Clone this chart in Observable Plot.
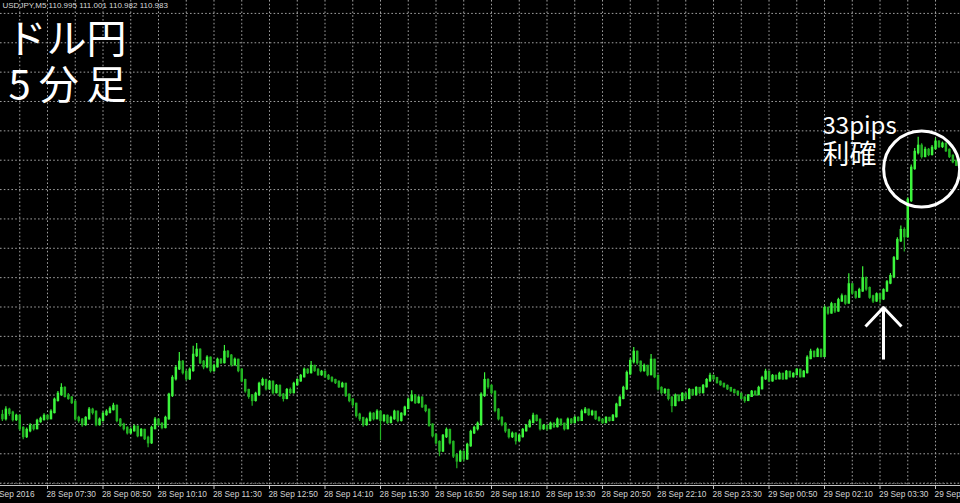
<!DOCTYPE html>
<html>
<head>
<meta charset="utf-8">
<script src="https://cdn.jsdelivr.net/npm/d3@7"></script>
<script src="https://cdn.jsdelivr.net/npm/@observablehq/plot@0.6"></script>
<style>
  html, body { margin: 0; padding: 0; background: #000; }
  #chart { width: 960px; height: 503px; overflow: hidden; }
</style>
</head>
<body>
<div id="chart"></div>
<script>
// ---- DATA (USDJPY M5, 5-minute bars starting 28 Sep 06:25) ----
const symbol = "USDJPY,M5";
const firstBar = "2016-09-28T06:25:00Z";
const barMinutes = 5;
const firstOpen = 110.130;

const closes = [
  110.120,110.148,110.138,110.117,110.127,110.086,110.059,110.079,110.093,110.086,
  110.110,110.117,110.127,110.120,110.141,110.182,110.202,110.222,110.196,110.189,
  110.175,110.120,110.114,110.100,110.120,110.148,110.141,110.100,110.114,110.134,
  110.141,110.151,110.161,110.114,110.097,110.086,110.072,110.079,110.090,110.062,
  110.079,110.052,110.038,110.086,110.114,110.100,110.090,110.120,110.199,110.256,
  110.290,110.311,110.277,110.256,110.284,110.335,110.352,110.311,110.297,110.325,
  110.284,110.297,110.318,110.311,110.345,110.332,110.304,110.318,110.284,110.249,
  110.215,110.196,110.182,110.202,110.236,110.249,110.222,110.243,110.209,110.229,
  110.199,110.189,110.215,110.209,110.236,110.249,110.263,110.284,110.277,110.297,
  110.284,110.270,110.277,110.263,110.256,110.249,110.243,110.229,110.236,110.199,
  110.182,110.168,110.131,110.120,110.100,110.114,110.134,110.120,110.141,110.114,
  110.127,110.107,110.120,110.141,110.114,110.134,110.155,110.182,110.196,110.175,
  110.189,110.161,110.148,110.097,110.062,110.038,110.010,110.059,110.079,110.038,
  109.993,109.976,110.004,109.983,110.028,110.072,110.086,110.100,110.199,110.249,
  110.229,110.209,110.148,110.120,110.100,110.079,110.059,110.066,110.045,110.059,
  110.079,110.093,110.107,110.127,110.114,110.086,110.093,110.086,110.100,110.093,
  110.114,110.100,110.086,110.114,110.107,110.120,110.114,110.141,110.148,110.134,
  110.141,110.120,110.114,110.107,110.120,110.114,110.127,110.165,110.189,110.222,
  110.273,110.314,110.345,110.311,110.284,110.297,110.270,110.318,110.263,110.222,
  110.209,110.215,110.189,110.165,110.196,110.182,110.202,110.189,110.215,110.202,
  110.222,110.209,110.229,110.249,110.263,110.256,110.243,110.236,110.229,110.222,
  110.215,110.209,110.202,110.189,110.182,110.196,110.209,110.202,110.222,110.256,
  110.277,110.249,110.263,110.256,110.270,110.256,110.277,110.263,110.270,110.284,
  110.263,110.277,110.325,110.345,110.332,110.352,110.332,110.494,110.480,110.507,
  110.487,110.521,110.534,110.514,110.575,110.548,110.534,110.555,110.596,110.562,
  110.534,110.521,110.541,110.528,110.555,110.582,110.603,110.664,110.726,110.760,
  110.740,110.863,110.972,111.026,111.047,111.013,111.033,111.020,111.040,111.061,
  111.047,111.054,111.033,111.013,110.995,110.983
];

const highs = [
  110.148,110.160,110.155,110.145,110.135,110.132,110.092,110.088,110.102,110.100,
  110.118,110.125,110.136,110.133,110.150,110.190,110.212,110.239,110.228,110.205,
  110.195,110.180,110.128,110.120,110.126,110.158,110.155,110.146,110.122,110.142,
  110.150,110.160,110.172,110.166,110.120,110.104,110.092,110.088,110.098,110.095,
  110.086,110.084,110.060,110.094,110.124,110.120,110.106,110.128,110.206,110.266,
  110.300,110.345,110.318,110.284,110.292,110.366,110.376,110.358,110.318,110.334,
  110.330,110.305,110.326,110.325,110.369,110.352,110.338,110.326,110.322,110.290,
  110.254,110.220,110.202,110.210,110.244,110.258,110.254,110.250,110.248,110.236,
  110.234,110.205,110.222,110.224,110.244,110.256,110.270,110.292,110.290,110.314,
  110.302,110.290,110.284,110.282,110.270,110.262,110.254,110.248,110.244,110.240,
  110.204,110.188,110.172,110.138,110.124,110.122,110.142,110.140,110.150,110.146,
  110.134,110.132,110.128,110.148,110.146,110.140,110.162,110.190,110.215,110.202,
  110.196,110.194,110.166,110.152,110.102,110.068,110.044,110.066,110.088,110.084,
  110.044,110.000,110.012,110.010,110.036,110.080,110.094,110.108,110.208,110.276,
  110.256,110.236,110.214,110.154,110.126,110.106,110.084,110.074,110.072,110.066,
  110.086,110.100,110.116,110.138,110.132,110.118,110.100,110.098,110.108,110.106,
  110.122,110.118,110.104,110.122,110.120,110.128,110.126,110.150,110.158,110.152,
  110.148,110.144,110.126,110.118,110.126,110.124,110.134,110.172,110.196,110.230,
  110.282,110.324,110.362,110.350,110.316,110.306,110.302,110.338,110.322,110.268,
  110.228,110.222,110.220,110.194,110.204,110.200,110.208,110.206,110.222,110.220,
  110.228,110.226,110.236,110.256,110.274,110.268,110.260,110.248,110.240,110.234,
  110.226,110.220,110.214,110.206,110.194,110.202,110.216,110.214,110.230,110.264,
  110.288,110.282,110.270,110.268,110.278,110.274,110.284,110.280,110.276,110.290,
  110.288,110.284,110.334,110.356,110.350,110.360,110.356,110.504,110.500,110.516,
  110.512,110.530,110.544,110.540,110.613,110.580,110.554,110.564,110.637,110.602,
  110.568,110.540,110.548,110.546,110.562,110.590,110.614,110.672,110.736,110.776,
  110.770,110.872,110.984,111.040,111.078,111.056,111.044,111.040,111.050,111.075,
  111.066,111.062,111.058,111.038,111.018,111.001
];

const lows = [
  110.110,110.112,110.128,110.108,110.110,110.078,110.048,110.052,110.072,110.078,
  110.082,110.104,110.112,110.112,110.116,110.136,110.176,110.196,110.190,110.182,
  110.168,110.112,110.104,110.090,110.094,110.114,110.132,110.092,110.094,110.108,
  110.128,110.136,110.146,110.106,110.090,110.078,110.064,110.066,110.074,110.055,
  110.058,110.045,110.021,110.032,110.082,110.093,110.082,110.085,110.114,110.192,
  110.248,110.284,110.268,110.248,110.250,110.278,110.328,110.304,110.286,110.290,
  110.275,110.278,110.292,110.304,110.306,110.325,110.296,110.298,110.276,110.242,
  110.206,110.186,110.162,110.176,110.196,110.230,110.214,110.216,110.200,110.204,
  110.192,110.176,110.184,110.202,110.204,110.230,110.244,110.258,110.270,110.272,
  110.278,110.264,110.264,110.258,110.250,110.242,110.236,110.222,110.224,110.192,
  110.174,110.158,110.122,110.110,110.090,110.094,110.108,110.112,110.116,110.045,
  110.106,110.100,110.102,110.114,110.106,110.108,110.128,110.150,110.176,110.168,
  110.170,110.154,110.140,110.090,110.054,110.030,109.990,110.004,110.052,110.030,
  109.984,109.949,109.970,109.972,109.978,110.022,110.066,110.078,110.094,110.192,
  110.220,110.200,110.140,110.112,110.092,110.070,110.050,110.052,110.030,110.040,
  110.054,110.074,110.088,110.102,110.108,110.078,110.080,110.078,110.082,110.086,
  110.088,110.094,110.078,110.082,110.100,110.102,110.108,110.110,110.136,110.128,
  110.128,110.114,110.108,110.100,110.102,110.108,110.110,110.122,110.160,110.184,
  110.216,110.266,110.306,110.302,110.276,110.278,110.262,110.266,110.256,110.214,
  110.200,110.202,110.180,110.140,110.160,110.176,110.178,110.182,110.184,110.196,
  110.198,110.202,110.204,110.224,110.244,110.250,110.238,110.230,110.224,110.216,
  110.210,110.204,110.196,110.184,110.172,110.178,110.192,110.196,110.198,110.218,
  110.250,110.242,110.244,110.250,110.252,110.250,110.252,110.258,110.258,110.266,
  110.258,110.260,110.272,110.320,110.326,110.328,110.326,110.328,110.472,110.476,
  110.478,110.482,110.516,110.506,110.510,110.540,110.526,110.530,110.550,110.554,
  110.526,110.512,110.516,110.510,110.522,110.550,110.576,110.598,110.658,110.720,
  110.687,110.734,110.856,110.966,111.018,111.004,111.008,111.012,111.014,111.034,
  111.040,111.040,111.026,111.006,110.988,110.982
];

// time-axis labels (MT4 style, left-aligned at their bar)
const tickTimes = [
  "2016-09-28T06:05:00Z","2016-09-28T07:30:00Z","2016-09-28T08:50:00Z","2016-09-28T10:10:00Z",
  "2016-09-28T11:30:00Z","2016-09-28T12:50:00Z","2016-09-28T14:10:00Z","2016-09-28T15:30:00Z",
  "2016-09-28T16:50:00Z","2016-09-28T18:10:00Z","2016-09-28T19:30:00Z","2016-09-28T20:50:00Z",
  "2016-09-28T22:10:00Z","2016-09-28T23:30:00Z","2016-09-29T00:50:00Z","2016-09-29T02:10:00Z",
  "2016-09-29T03:30:00Z","2016-09-29T04:50:00Z"
];
const tickLabels = [
  "28 Sep 2016","28 Sep 07:30","28 Sep 08:50","28 Sep 10:10","28 Sep 11:30","28 Sep 12:50",
  "28 Sep 14:10","28 Sep 15:30","28 Sep 16:50","28 Sep 18:10","28 Sep 19:30","28 Sep 20:50",
  "28 Sep 22:10","28 Sep 23:30","29 Sep 00:50","29 Sep 02:10","29 Sep 03:30","29 Sep 04:50"
];

const titleLines = ["ドル円", "5分足"];
const noteLines = ["33pips", "利確"];
const entryBar = 254;                 // bar the arrow points at (entry)
const exitZone = {bar: 265, price: 110.97};  // centre of the circled take-profit zone

// ---- BUILD ----
const t0 = new Date(firstBar).getTime();
const candles = closes.map((c, i) => ({
  time: new Date(t0 + i * barMinutes * 60000),
  open: i === 0 ? firstOpen : closes[i - 1],
  high: highs[i],
  low: lows[i],
  close: c
}));
const upBars = candles.filter(d => d.close >= d.open);
const downBars = candles.filter(d => d.close < d.open);
const last = candles[candles.length - 1];
const header = `${symbol} ${last.open.toFixed(3)} ${last.high.toFixed(3)} ${last.low.toFixed(3)} ${last.close.toFixed(3)}`;

const ticks = tickTimes.map((t, i) => ({time: new Date(t), label: tickLabels[i]}));

const xDomain = [new Date("2016-09-28T06:22:15Z"), new Date("2016-09-29T05:26:00Z")];
const yDomain = [109.892, 111.544];
const gridPrices = d3.range(109.9, 111.55, 0.1);
const gridTimes = [];
for (let t = new Date("2016-09-28T06:50:00Z").getTime(); t <= xDomain[1].getTime(); t += 40 * 60000) gridTimes.push(new Date(t));

const upColor = "#3cf53c";
const downColor = "#22b322";
const gridColor = "#a0a0a0";

const arrowShape = {
  draw(context, l) {
    context.moveTo(0, 0);
    context.lineTo(0, -l);
    context.moveTo(-18, -l + 19);
    context.lineTo(0, -l);
    context.lineTo(18, -l + 19);
  }
};

const chart = Plot.plot({
  width: 960,
  height: 503,
  marginTop: 0,
  marginLeft: 0,
  marginRight: 0,
  marginBottom: 18,
  style: {background: "#000", color: "#ddd", overflow: "visible"},
  x: {type: "utc", domain: xDomain, axis: null},
  y: {domain: yDomain, axis: null},
  marks: [
    // dotted grid
    Plot.ruleY(gridPrices, {stroke: gridColor, strokeDasharray: "1.6,2.2", strokeWidth: 1}),
    Plot.ruleX(gridTimes, {stroke: gridColor, strokeDasharray: "1.6,2.2", strokeWidth: 1}),
    // bottom time scale
    Plot.ruleY([yDomain[0]], {stroke: "#c4c4c4", strokeWidth: 1}),
    Plot.ruleY([yDomain[0]], {stroke: "#8a8a8a", strokeDasharray: "1,2.47", dy: -2, strokeWidth: 1}),
    Plot.ruleX(ticks, {x: "time", y1: yDomain[0], y2: yDomain[0], insetBottom: -4, stroke: "#c4c4c4"}),
    Plot.text(ticks, {x: "time", y: yDomain[0], text: "label", textAnchor: "start", dy: 9, dx: -1,
      fill: "#d4d4d4", fontSize: 8.3, fontFamily: "Liberation Sans, Arial, sans-serif"}),
    // candles: wicks
    Plot.ruleX(upBars, {x: "time", y1: "low", y2: "high", stroke: upColor, strokeWidth: 1.2}),
    Plot.ruleX(downBars, {x: "time", y1: "low", y2: "high", stroke: downColor, strokeWidth: 1.2}),
    // candles: bodies
    Plot.ruleX(upBars, {x: "time", y1: "open", y2: "close", stroke: upColor, strokeWidth: 2.5, strokeLinecap: "square"}),
    Plot.ruleX(downBars, {x: "time", y1: "open", y2: "close", stroke: downColor, strokeWidth: 2.5, strokeLinecap: "square"}),
    // header
    Plot.text([header], {frameAnchor: "top-left", text: d => d, dx: 2, dy: 5, lineAnchor: "middle",
      fill: "#d8d8d8", fontSize: 8, fontFamily: "Liberation Sans, Arial, sans-serif"}),
    // title
    Plot.text([titleLines[0]], {frameAnchor: "top-left", text: d => d, dx: 6, dy: 40, lineAnchor: "middle",
      textAnchor: "start", fill: "#fff", fontSize: 40, fontFamily: "Noto Sans CJK JP"}),
    Plot.text([titleLines[1]], {frameAnchor: "top-left", text: d => d, dx: 8, dy: 86, lineAnchor: "middle",
      textAnchor: "start", fill: "#fff", fontSize: 40, fontFamily: "Noto Sans CJK JP"}),
    // note
    Plot.text([noteLines[0]], {frameAnchor: "top-left", text: d => d, dx: 822, dy: 126, lineAnchor: "middle",
      textAnchor: "start", fill: "#fff", fontSize: 24, fontFamily: "Noto Sans CJK JP"}),
    Plot.text([noteLines[1]], {frameAnchor: "top-left", text: d => d, dx: 822, dy: 155, lineAnchor: "middle",
      textAnchor: "start", fill: "#fff", fontSize: 27, fontFamily: "Noto Sans CJK JP"}),
    // circle around take-profit zone
    Plot.dot([exitZone], {x: d => candles[d.bar].time, y: "price", r: 38, stroke: "#fff", strokeWidth: 3, fill: "none"}),
    // entry arrow
    Plot.vector([candles[entryBar]], {x: "time", y: "low", length: 52, anchor: "end", dy: 7,
      shape: arrowShape, stroke: "#fff", strokeWidth: 3, strokeLinecap: "butt"})
  ]
});
// wider glyph pitch on the second title line, as in the reference
d3.select(chart).selectAll("text")
  .filter(function () { return this.textContent === titleLines[1]; })
  .style("letter-spacing", "8px");
document.getElementById("chart").appendChild(chart);
</script>
</body>
</html>
